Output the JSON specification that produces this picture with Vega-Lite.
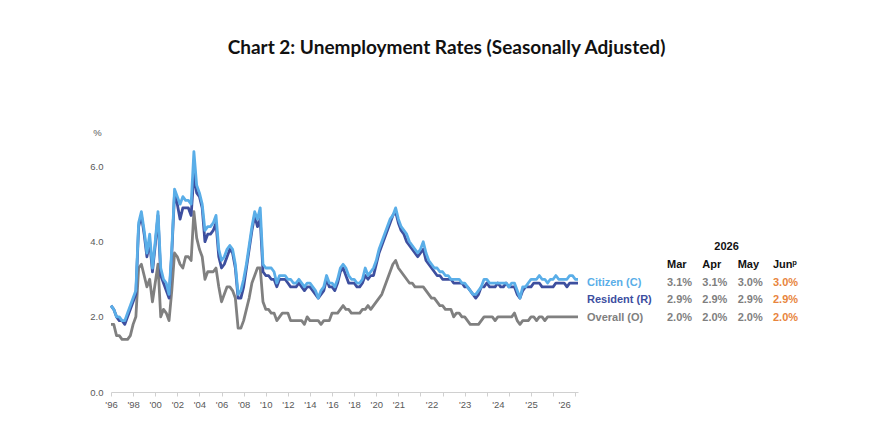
{
  "$schema": "https://vega.github.io/schema/vega-lite/v6.json",
  "width": 467,
  "height": 263,
  "autosize": {"type": "none"},
  "padding": {"left": 111, "top": 129, "right": 314, "bottom": 35},
  "background": "white",
  "title": {
    "text": "Chart 2: Unemployment Rates (Seasonally Adjusted)",
    "font": "Lato",
    "fontSize": 19,
    "fontWeight": "bold",
    "color": "#111111",
    "anchor": "middle",
    "dx": 102,
    "offset": 69
  },
  "config": {
    "view": {"stroke": null},
    "font": "Liberation Sans",
    "text": {"font": "Liberation Sans"},
    "axis": {"labelFont": "Liberation Sans", "titleFont": "Liberation Sans"}
  },
  "data": {
    "values": [
      {"period": "1996Q1", "C": 2.3, "R": 2.3, "O": 1.8},
      {"period": "1996Q2", "C": 2.2, "R": 2.2, "O": 1.8},
      {"period": "1996Q3", "C": 2.0, "R": 2.0, "O": 1.5},
      {"period": "1996Q4", "C": 2.0, "R": 1.9, "O": 1.5},
      {"period": "1997Q1", "C": 1.9, "R": 1.9, "O": 1.4},
      {"period": "1997Q2", "C": 1.9, "R": 1.8, "O": 1.4},
      {"period": "1997Q3", "C": 2.1, "R": 2.0, "O": 1.4},
      {"period": "1997Q4", "C": 2.3, "R": 2.2, "O": 1.5},
      {"period": "1998Q1", "C": 2.5, "R": 2.4, "O": 1.8},
      {"period": "1998Q2", "C": 2.7, "R": 2.6, "O": 2.0},
      {"period": "1998Q3", "C": 4.5, "R": 4.4, "O": 3.3},
      {"period": "1998Q4", "C": 4.8, "R": 4.7, "O": 3.4},
      {"period": "1999Q1", "C": 4.3, "R": 4.2, "O": 3.1},
      {"period": "1999Q2", "C": 3.7, "R": 3.6, "O": 2.8},
      {"period": "1999Q3", "C": 4.2, "R": 4.0, "O": 3.0},
      {"period": "1999Q4", "C": 3.3, "R": 3.2, "O": 2.4},
      {"period": "2000Q1", "C": 4.0, "R": 3.9, "O": 2.9},
      {"period": "2000Q2", "C": 4.8, "R": 4.7, "O": 3.4},
      {"period": "2000Q3", "C": 3.3, "R": 3.1, "O": 2.0},
      {"period": "2000Q4", "C": 3.0, "R": 2.9, "O": 2.2},
      {"period": "2001Q1", "C": 2.9, "R": 2.7, "O": 2.1},
      {"period": "2001Q2", "C": 2.6, "R": 2.5, "O": 1.9},
      {"period": "2001Q3", "C": 3.8, "R": 3.7, "O": 2.7},
      {"period": "2001Q4", "C": 5.4, "R": 5.3, "O": 3.7},
      {"period": "2002Q1", "C": 5.2, "R": 5.0, "O": 3.6},
      {"period": "2002Q2", "C": 5.0, "R": 4.6, "O": 3.4},
      {"period": "2002Q3", "C": 5.2, "R": 4.9, "O": 3.3},
      {"period": "2002Q4", "C": 5.1, "R": 4.9, "O": 3.6},
      {"period": "2003Q1", "C": 5.1, "R": 4.9, "O": 3.6},
      {"period": "2003Q2", "C": 5.0, "R": 4.7, "O": 3.5},
      {"period": "2003Q3", "C": 6.4, "R": 5.8, "O": 4.8},
      {"period": "2003Q4", "C": 5.5, "R": 5.3, "O": 4.1},
      {"period": "2004Q1", "C": 5.3, "R": 5.2, "O": 3.8},
      {"period": "2004Q2", "C": 5.0, "R": 4.9, "O": 3.6},
      {"period": "2004Q3", "C": 4.3, "R": 4.0, "O": 3.0},
      {"period": "2004Q4", "C": 4.4, "R": 4.2, "O": 3.2},
      {"period": "2005Q1", "C": 4.4, "R": 4.2, "O": 3.2},
      {"period": "2005Q2", "C": 4.5, "R": 4.3, "O": 3.2},
      {"period": "2005Q3", "C": 4.7, "R": 4.5, "O": 3.3},
      {"period": "2005Q4", "C": 3.8, "R": 3.6, "O": 2.8},
      {"period": "2006Q1", "C": 3.5, "R": 3.3, "O": 2.4},
      {"period": "2006Q2", "C": 3.6, "R": 3.4, "O": 2.6},
      {"period": "2006Q3", "C": 3.8, "R": 3.6, "O": 2.8},
      {"period": "2006Q4", "C": 3.9, "R": 3.8, "O": 2.8},
      {"period": "2007Q1", "C": 3.8, "R": 3.7, "O": 2.7},
      {"period": "2007Q2", "C": 3.4, "R": 3.3, "O": 2.5},
      {"period": "2007Q3", "C": 2.6, "R": 2.5, "O": 1.7},
      {"period": "2007Q4", "C": 2.7, "R": 2.5, "O": 1.7},
      {"period": "2008Q1", "C": 3.0, "R": 2.8, "O": 1.9},
      {"period": "2008Q2", "C": 3.4, "R": 3.3, "O": 2.2},
      {"period": "2008Q3", "C": 3.9, "R": 3.8, "O": 2.5},
      {"period": "2008Q4", "C": 4.4, "R": 4.3, "O": 2.9},
      {"period": "2009Q1", "C": 4.8, "R": 4.7, "O": 3.1},
      {"period": "2009Q2", "C": 4.6, "R": 4.4, "O": 3.3},
      {"period": "2009Q3", "C": 4.9, "R": 4.6, "O": 3.3},
      {"period": "2009Q4", "C": 3.4, "R": 3.2, "O": 2.4},
      {"period": "2010Q1", "C": 3.3, "R": 3.1, "O": 2.2},
      {"period": "2010Q2", "C": 3.3, "R": 3.1, "O": 2.2},
      {"period": "2010Q3", "C": 3.3, "R": 3.0, "O": 2.1},
      {"period": "2010Q4", "C": 3.2, "R": 3.0, "O": 2.1},
      {"period": "2011Q1", "C": 2.9, "R": 2.8, "O": 1.9},
      {"period": "2011Q2", "C": 3.1, "R": 3.0, "O": 2.0},
      {"period": "2011Q3", "C": 3.1, "R": 3.0, "O": 2.1},
      {"period": "2011Q4", "C": 3.1, "R": 3.0, "O": 2.1},
      {"period": "2012Q1", "C": 3.0, "R": 2.9, "O": 2.1},
      {"period": "2012Q2", "C": 3.0, "R": 2.8, "O": 1.9},
      {"period": "2012Q3", "C": 2.9, "R": 2.8, "O": 1.9},
      {"period": "2012Q4", "C": 2.9, "R": 2.8, "O": 1.9},
      {"period": "2013Q1", "C": 3.0, "R": 2.9, "O": 1.9},
      {"period": "2013Q2", "C": 2.9, "R": 2.8, "O": 1.9},
      {"period": "2013Q3", "C": 2.8, "R": 2.7, "O": 1.8},
      {"period": "2013Q4", "C": 2.9, "R": 2.8, "O": 2.0},
      {"period": "2014Q1", "C": 2.9, "R": 2.8, "O": 1.9},
      {"period": "2014Q2", "C": 2.8, "R": 2.7, "O": 1.9},
      {"period": "2014Q3", "C": 2.7, "R": 2.6, "O": 1.9},
      {"period": "2014Q4", "C": 2.5, "R": 2.5, "O": 1.9},
      {"period": "2015Q1", "C": 2.7, "R": 2.6, "O": 1.8},
      {"period": "2015Q2", "C": 2.8, "R": 2.7, "O": 1.9},
      {"period": "2015Q3", "C": 3.1, "R": 3.0, "O": 1.9},
      {"period": "2015Q4", "C": 2.9, "R": 2.8, "O": 1.9},
      {"period": "2016Q1", "C": 2.9, "R": 2.8, "O": 2.1},
      {"period": "2016Q2", "C": 2.8, "R": 2.7, "O": 2.1},
      {"period": "2016Q3", "C": 3.0, "R": 2.9, "O": 2.1},
      {"period": "2016Q4", "C": 3.3, "R": 3.2, "O": 2.2},
      {"period": "2017Q1", "C": 3.4, "R": 3.3, "O": 2.3},
      {"period": "2017Q2", "C": 3.3, "R": 3.1, "O": 2.2},
      {"period": "2017Q3", "C": 3.1, "R": 2.9, "O": 2.2},
      {"period": "2017Q4", "C": 3.0, "R": 2.9, "O": 2.1},
      {"period": "2018Q1", "C": 3.0, "R": 2.9, "O": 2.1},
      {"period": "2018Q2", "C": 2.9, "R": 2.8, "O": 2.1},
      {"period": "2018Q3", "C": 2.9, "R": 2.8, "O": 2.1},
      {"period": "2018Q4", "C": 3.0, "R": 2.9, "O": 2.2},
      {"period": "2019Q1", "C": 3.3, "R": 3.1, "O": 2.2},
      {"period": "2019Q2", "C": 3.1, "R": 3.0, "O": 2.3},
      {"period": "2019Q3", "C": 3.2, "R": 3.1, "O": 2.2},
      {"period": "2019Q4", "C": 3.3, "R": 3.1, "O": 2.3},
      {"period": "2020Q1", "C": 3.5, "R": 3.4, "O": 2.4},
      {"period": "2020Q2", "C": 3.8, "R": 3.7, "O": 2.5},
      {"period": "2020-07", "C": 4.0, "R": 3.9, "O": 2.6},
      {"period": "2020-08", "C": 4.2, "R": 4.1, "O": 2.8},
      {"period": "2020-09", "C": 4.4, "R": 4.3, "O": 3.0},
      {"period": "2020-10", "C": 4.6, "R": 4.5, "O": 3.2},
      {"period": "2020-11", "C": 4.7, "R": 4.7, "O": 3.4},
      {"period": "2020-12", "C": 4.9, "R": 4.8, "O": 3.5},
      {"period": "2021-01", "C": 4.6, "R": 4.5, "O": 3.3},
      {"period": "2021-02", "C": 4.4, "R": 4.3, "O": 3.2},
      {"period": "2021-03", "C": 4.3, "R": 4.2, "O": 3.1},
      {"period": "2021-04", "C": 4.2, "R": 4.0, "O": 3.0},
      {"period": "2021-05", "C": 4.0, "R": 3.9, "O": 2.9},
      {"period": "2021-06", "C": 3.9, "R": 3.8, "O": 2.9},
      {"period": "2021-07", "C": 3.8, "R": 3.7, "O": 2.8},
      {"period": "2021-08", "C": 3.7, "R": 3.6, "O": 2.8},
      {"period": "2021-09", "C": 3.8, "R": 3.7, "O": 2.8},
      {"period": "2021-10", "C": 4.0, "R": 3.8, "O": 2.8},
      {"period": "2021-11", "C": 3.7, "R": 3.5, "O": 2.7},
      {"period": "2021-12", "C": 3.5, "R": 3.4, "O": 2.6},
      {"period": "2022-01", "C": 3.4, "R": 3.3, "O": 2.5},
      {"period": "2022-02", "C": 3.3, "R": 3.2, "O": 2.5},
      {"period": "2022-03", "C": 3.3, "R": 3.1, "O": 2.4},
      {"period": "2022-04", "C": 3.2, "R": 3.1, "O": 2.3},
      {"period": "2022-05", "C": 3.2, "R": 3.0, "O": 2.3},
      {"period": "2022-06", "C": 3.1, "R": 3.0, "O": 2.2},
      {"period": "2022-07", "C": 3.1, "R": 3.0, "O": 2.2},
      {"period": "2022-08", "C": 3.0, "R": 3.0, "O": 2.2},
      {"period": "2022-09", "C": 3.0, "R": 2.9, "O": 2.0},
      {"period": "2022-10", "C": 3.0, "R": 2.9, "O": 2.1},
      {"period": "2022-11", "C": 3.0, "R": 2.9, "O": 2.1},
      {"period": "2022-12", "C": 2.9, "R": 2.9, "O": 2.0},
      {"period": "2023-01", "C": 2.9, "R": 2.8, "O": 2.0},
      {"period": "2023-02", "C": 2.8, "R": 2.8, "O": 1.9},
      {"period": "2023-03", "C": 2.7, "R": 2.7, "O": 1.8},
      {"period": "2023-04", "C": 2.6, "R": 2.6, "O": 1.8},
      {"period": "2023-05", "C": 2.6, "R": 2.5, "O": 1.8},
      {"period": "2023-06", "C": 2.7, "R": 2.6, "O": 1.8},
      {"period": "2023-07", "C": 2.8, "R": 2.8, "O": 1.9},
      {"period": "2023-08", "C": 3.0, "R": 2.8, "O": 2.0},
      {"period": "2023-09", "C": 3.0, "R": 2.9, "O": 2.0},
      {"period": "2023-10", "C": 2.9, "R": 2.8, "O": 2.0},
      {"period": "2023-11", "C": 2.9, "R": 2.8, "O": 2.0},
      {"period": "2023-12", "C": 2.9, "R": 2.8, "O": 1.9},
      {"period": "2024-01", "C": 2.9, "R": 2.9, "O": 2.0},
      {"period": "2024-02", "C": 2.9, "R": 2.8, "O": 2.0},
      {"period": "2024-03", "C": 2.9, "R": 2.8, "O": 2.0},
      {"period": "2024-04", "C": 2.9, "R": 2.9, "O": 2.0},
      {"period": "2024-05", "C": 2.8, "R": 2.8, "O": 2.0},
      {"period": "2024-06", "C": 2.9, "R": 2.8, "O": 2.0},
      {"period": "2024-07", "C": 2.9, "R": 2.8, "O": 2.1},
      {"period": "2024-08", "C": 2.7, "R": 2.6, "O": 1.9},
      {"period": "2024-09", "C": 2.5, "R": 2.5, "O": 1.8},
      {"period": "2024-10", "C": 2.8, "R": 2.7, "O": 1.9},
      {"period": "2024-11", "C": 2.8, "R": 2.8, "O": 1.9},
      {"period": "2024-12", "C": 2.9, "R": 2.8, "O": 1.9},
      {"period": "2025-01", "C": 3.0, "R": 2.8, "O": 2.0},
      {"period": "2025-02", "C": 3.0, "R": 2.9, "O": 2.0},
      {"period": "2025-03", "C": 3.0, "R": 2.9, "O": 1.9},
      {"period": "2025-04", "C": 3.1, "R": 2.9, "O": 2.0},
      {"period": "2025-05", "C": 3.0, "R": 2.8, "O": 2.0},
      {"period": "2025-06", "C": 3.0, "R": 2.8, "O": 1.9},
      {"period": "2025-07", "C": 2.9, "R": 2.8, "O": 2.0},
      {"period": "2025-08", "C": 3.0, "R": 2.8, "O": 2.0},
      {"period": "2025-09", "C": 3.0, "R": 2.8, "O": 2.0},
      {"period": "2025-10", "C": 3.1, "R": 2.9, "O": 2.0},
      {"period": "2025-11", "C": 3.0, "R": 2.9, "O": 2.0},
      {"period": "2025-12", "C": 3.0, "R": 2.9, "O": 2.0},
      {"period": "2026-01", "C": 3.0, "R": 2.9, "O": 2.0},
      {"period": "2026-02", "C": 3.0, "R": 2.8, "O": 2.0},
      {"period": "2026-03", "C": 3.1, "R": 2.9, "O": 2.0},
      {"period": "2026-04", "C": 3.1, "R": 2.9, "O": 2.0},
      {"period": "2026-05", "C": 3.0, "R": 2.9, "O": 2.0},
      {"period": "2026-06", "C": 3.0, "R": 2.9, "O": 2.0}
    ]
  },
  "layer": [
    {
      "transform": [{"fold": ["O", "R", "C"], "as": ["series", "rate"]}],
      "mark": {"type": "line", "strokeWidth": 2.8, "strokeJoin": "round"},
      "encoding": {
        "x": {
          "field": "period",
          "type": "ordinal",
          "sort": null,
          "scale": {"type": "point", "padding": 0},
          "axis": {
            "title": null,
            "values": ["1996Q1", "1998Q1", "2000Q1", "2002Q1", "2004Q1", "2006Q1", "2008Q1", "2010Q1", "2012Q1", "2014Q1", "2016Q1", "2018Q1", "2020Q1", "2021-01", "2021-09", "2022-01", "2022-05", "2023-01", "2023-09", "2024-01", "2024-05", "2025-01", "2025-09", "2026-01", "2026-05"],
            "labelExpr": "(indexof(datum.value,'Q1')>0 || indexof(datum.value,'-01')>0) ? \"'\" + substring(datum.value,2,4) : ''",
            "labelAngle": 0,
            "labelOverlap": false,
            "labelFont": "Liberation Sans",
            "labelFontSize": 9.5,
            "labelColor": "#595959",
            "labelPadding": 3,
            "domainColor": "#D0D0D0",
            "tickColor": {"condition": {"test": "indexof(['2022-01','2024-01','2026-01'], datum.value) >= 0", "value": "transparent"}, "value": "#D0D0D0"},
            "tickSize": 4,
            "grid": false
          }
        },
        "y": {
          "field": "rate",
          "type": "quantitative",
          "scale": {"domain": [0, 7]},
          "axis": {
            "values": [0, 2, 4, 6],
            "format": ".1f",
            "domain": false,
            "ticks": false,
            "grid": false,
            "labelPadding": 8,
            "labelFont": "Liberation Sans",
            "labelFontSize": 9.5,
            "labelColor": "#595959",
            "title": "%",
            "titleFont": "Liberation Sans",
            "titleAngle": 0,
            "titleX": -14,
            "titleY": 3,
            "titleAlign": "center",
            "titleBaseline": "middle",
            "titleFontWeight": "normal",
            "titleFontSize": 9.5,
            "titleColor": "#595959"
          }
        },
        "color": {
          "field": "series",
          "type": "nominal",
          "scale": {"domain": ["C", "R", "O"], "range": ["#5AAEE8", "#3D4F9F", "#808080"]},
          "legend": null
        }
      }
    },
    {
      "layer": [
        {
          "transform": [
            {"filter": {"field": "period", "oneOf": ["2026-03", "2026-04", "2026-05", "2026-06"]}},
            {"fold": ["C", "R", "O"], "as": ["series", "rate"]},
            {"calculate": "format(datum.rate, '.1f') + '%'", "as": "txt"}
          ],
          "mark": {"type": "text", "align": "left", "baseline": "middle", "font": "Liberation Sans", "fontSize": 11, "fontWeight": "bold"},
          "encoding": {
            "x": {"field": "period", "type": "ordinal", "scale": {"type": "point", "padding": 0, "domain": ["2026-03", "2026-04", "2026-05", "2026-06"], "range": [556, 662]}, "axis": null},
            "y": {"field": "series", "type": "ordinal", "scale": {"type": "point", "padding": 0, "domain": ["year", "head", "C", "R", "O"], "range": [118, 189]}, "axis": null},
            "text": {"field": "txt"},
            "color": {"condition": {"test": "datum.period === '2026-06'", "value": "#E8853D"}, "value": "#7F7F7F"}
          }
        },
        {
          "data": {"values": [
            {"period": "2026-03", "row": "head", "label": "Mar"},
            {"period": "2026-04", "row": "head", "label": "Apr"},
            {"period": "2026-05", "row": "head", "label": "May"},
            {"period": "2026-06", "row": "head", "label": "Junᵖ"}
          ]},
          "mark": {"type": "text", "align": "left", "baseline": "middle", "font": "Liberation Sans", "fontSize": 11, "fontWeight": "bold", "color": "#111111"},
          "encoding": {
            "x": {"field": "period", "type": "ordinal", "axis": null},
            "y": {"field": "row", "type": "ordinal", "axis": null},
            "text": {"field": "label"}
          }
        },
        {
          "data": {"values": [{"period": "2026-04", "row": "year", "label": "2026"}]},
          "mark": {"type": "text", "align": "left", "baseline": "middle", "font": "Liberation Sans", "fontSize": 11, "fontWeight": "bold", "color": "#111111", "dx": 12},
          "encoding": {
            "x": {"field": "period", "type": "ordinal", "axis": null},
            "y": {"field": "row", "type": "ordinal", "axis": null},
            "text": {"field": "label"}
          }
        },
        {
          "data": {"values": [
            {"series": "C", "label": "Citizen (C)"},
            {"series": "R", "label": "Resident (R)"},
            {"series": "O", "label": "Overall (O)"}
          ]},
          "mark": {"type": "text", "align": "left", "baseline": "middle", "font": "Liberation Sans", "fontSize": 11, "fontWeight": "bold", "dx": -80},
          "encoding": {
            "x": {"datum": "2026-03", "type": "ordinal", "axis": null},
            "y": {"field": "series", "type": "ordinal", "axis": null},
            "text": {"field": "label"},
            "color": {"field": "series", "type": "nominal", "legend": null}
          }
        }
      ]
    }
  ],
  "resolve": {"scale": {"x": "independent", "y": "independent"}}
}
